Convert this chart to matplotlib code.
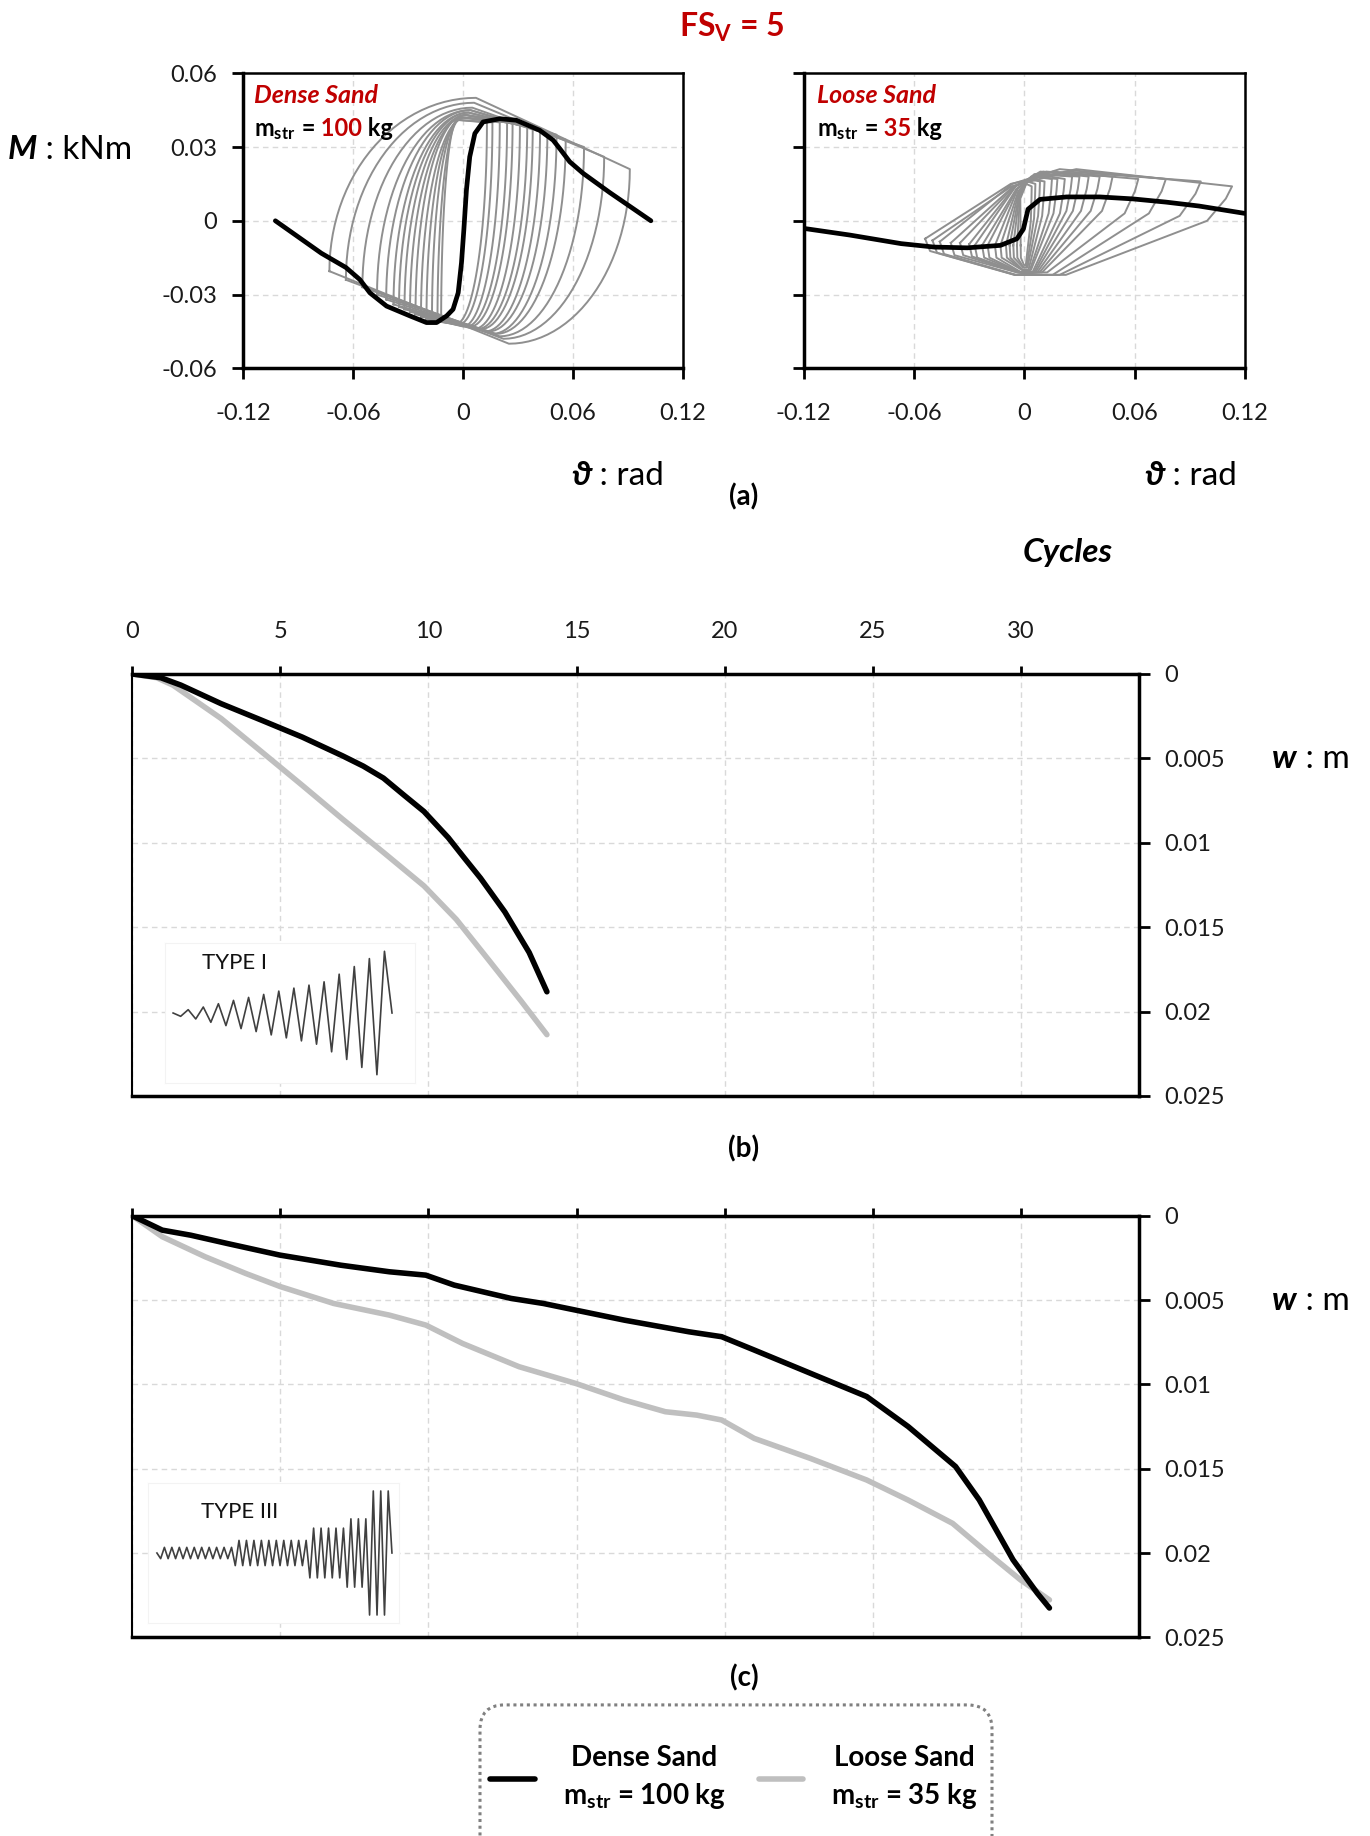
import numpy as np
import matplotlib
matplotlib.use('Agg')
import matplotlib.pyplot as plt
from matplotlib.patches import FancyBboxPatch

plt.rcParams['font.family'] = ['Lato', 'DejaVu Sans']
plt.rcParams['mathtext.fontset'] = 'custom'
plt.rcParams['mathtext.rm'] = 'Lato'
plt.rcParams['mathtext.it'] = 'Lato:italic'
plt.rcParams['mathtext.bf'] = 'Lato:bold'

RED = '#c00000'
LOOP_GREY = '#8f8f8f'
LIGHT = '#bfbfbf'
GRID = '#d9d9d9'

# ---- (a) moment - rotation, dense sand (m_str = 100 kg) ----
dense_theta = [-0.1025, -0.0774, -0.064, -0.0564, -0.0509, -0.0418, -0.029, -0.020,
               -0.0145, -0.009, -0.0055, -0.0027, -0.0009, 0.0004, 0.0018, 0.0036, 0.0064,
               0.0109, 0.020, 0.029, 0.0418, 0.0491, 0.0527, 0.0582, 0.0655, 0.080, 0.1025]
dense_m = [0.0, -0.0132, -0.019, -0.0239, -0.0293, -0.0347, -0.0387, -0.0414,
           -0.0414, -0.0387, -0.036, -0.0293, -0.0171, -0.0036, 0.0125, 0.026, 0.0355,
           0.0402, 0.0415, 0.0409, 0.0368, 0.0328, 0.0294, 0.024, 0.0193, 0.0115, 0.0]

# cyclic loops (small -> large): rotation extremes, corner moments, peak moments
dense_tp = [0.013, 0.016, 0.020, 0.024, 0.027, 0.031, 0.035, 0.038, 0.042, 0.046, 0.051, 0.056, 0.066, 0.077, 0.091]
dense_tn = [-0.012, -0.014, -0.017, -0.020, -0.023, -0.026, -0.029, -0.032, -0.035, -0.038, -0.042, -0.047, -0.055, -0.064, -0.073]
dense_mr = [0.040, 0.040, 0.040, 0.040, 0.040, 0.039, 0.039, 0.038, 0.037, 0.036, 0.035, 0.033, 0.030, 0.026, 0.021]
dense_ml = [-0.041, -0.041, -0.040, -0.040, -0.039, -0.038, -0.037, -0.036, -0.035, -0.034, -0.032, -0.030, -0.027, -0.024, -0.0205]
dense_mt = [0.041, 0.041, 0.042, 0.042, 0.042, 0.043, 0.043, 0.043, 0.044, 0.044, 0.045, 0.045, 0.046, 0.048, 0.050]
dense_mb = [-0.042, -0.042, -0.043, -0.043, -0.043, -0.044, -0.044, -0.044, -0.045, -0.045, -0.046, -0.046, -0.047, -0.048, -0.050]
dense_xt = [-0.003, -0.002, -0.001, 0.0, 0.001, 0.001, 0.002, 0.002, 0.003, 0.003, 0.004, 0.004, 0.005, 0.006, 0.007]
dense_xb = [-0.004, -0.002, 0.0, 0.002, 0.004, 0.006, 0.008, 0.010, 0.012, 0.014, 0.016, 0.018, 0.020, 0.022, 0.025]

# ---- (a) moment - rotation, loose sand (m_str = 35 kg) ----
loose_theta = [-0.12, -0.095, -0.067, -0.049, -0.031, -0.013, -0.004, -0.0005, 0.002,
               0.0085, 0.023, 0.041, 0.059, 0.077, 0.095, 0.12]
loose_m = [-0.0031, -0.0058, -0.0093, -0.0107, -0.011, -0.010, -0.0073, -0.0033, 0.0047,
           0.0087, 0.0097, 0.0097, 0.0089, 0.0076, 0.006, 0.003]

loose_tp = [0.004, 0.006, 0.0085, 0.011, 0.015, 0.018, 0.022, 0.026, 0.030, 0.035, 0.041, 0.048, 0.062, 0.077, 0.096, 0.113]
loose_tn = [-0.002, -0.004, -0.006, -0.008, -0.010, -0.013, -0.016, -0.020, -0.023, -0.027, -0.030, -0.035, -0.040, -0.046, -0.050, -0.054]
loose_mt = [0.015, 0.016, 0.017, 0.017, 0.018, 0.018, 0.019, 0.019, 0.019, 0.020, 0.020, 0.020, 0.020, 0.021, 0.020, 0.021]
loose_mr = [0.014, 0.015, 0.016, 0.016, 0.017, 0.017, 0.017, 0.018, 0.018, 0.018, 0.018, 0.018, 0.017, 0.017, 0.016, 0.014]
loose_mb = [-0.018, -0.019, -0.019, -0.020, -0.020, -0.020, -0.021, -0.021, -0.021, -0.021, -0.021, -0.021, -0.021, -0.022, -0.022, -0.022]
loose_ml = [-0.010, -0.010, -0.010, -0.010, -0.010, -0.010, -0.010, -0.010, -0.010, -0.010, -0.0095, -0.009, -0.009, -0.0085, -0.008, -0.0073]

theta_ticks = [-0.12, -0.06, 0, 0.06, 0.12]
theta_labels = ['-0.12', '-0.06', '0', '0.06', '0.12']
m_ticks = [-0.06, -0.03, 0, 0.03, 0.06]
m_labels = ['-0.06', '-0.03', '0', '0.03', '0.06']

# ---- (b) settlement vs cycles, TYPE I ----
b_cyc_dense = [0, 0.96, 1.64, 3.0, 4.38, 5.74, 7.1, 7.8, 8.48, 9.16, 9.85, 10.67, 11.21,
               11.76, 12.58, 13.4, 14.0]
b_w_dense = [0, 0.00022, 0.00066, 0.00176, 0.00275, 0.00374, 0.00485, 0.00546, 0.00617,
             0.00716, 0.00815, 0.0097, 0.0109, 0.0121, 0.0141, 0.0165, 0.01883]
b_cyc_loose = [0, 0.82, 1.37, 3.0, 4.38, 5.74, 7.1, 8.48, 9.85, 10.94, 12.04, 13.13, 14.0]
b_w_loose = [0, 0.00022, 0.00066, 0.00264, 0.00463, 0.0066, 0.0086, 0.01057, 0.01256,
             0.01454, 0.01696, 0.01938, 0.02137]

# ---- (c) settlement vs cycles, TYPE III ----
c_cyc_dense = [0, 1.01, 1.97, 3.2, 4.98, 7.04, 8.68, 9.91, 10.87, 12.79, 13.88, 16.62, 18.8,
               19.9, 21.0, 22.9, 24.8, 26.2, 27.8, 28.6, 29.74, 30.56, 30.97]
c_w_dense = [0, 0.00085, 0.00115, 0.00164, 0.00233, 0.00293, 0.00332, 0.00352, 0.00411,
             0.0049, 0.0052, 0.00619, 0.00688, 0.00717, 0.00796, 0.00934, 0.01072, 0.0125,
             0.01487, 0.01685, 0.0204, 0.02238, 0.02326]
c_cyc_loose = [0, 1.01, 2.46, 3.83, 5.0, 6.8, 8.68, 9.91, 11.15, 13.06, 14.97, 16.6, 18.0,
               19.06, 19.9, 21.0, 22.9, 24.8, 26.2, 27.7, 28.9, 30.0, 30.97]
c_w_loose = [0, 0.00124, 0.00243, 0.00342, 0.0042, 0.0052, 0.00589, 0.00648, 0.00757,
             0.00895, 0.00994, 0.01092, 0.01162, 0.01182, 0.01211, 0.0132, 0.01439, 0.01567,
             0.01686, 0.01824, 0.02002, 0.0216, 0.02278]

cycle_ticks = [0, 5, 10, 15, 20, 25, 30]
w_ticks = [0, 0.005, 0.01, 0.015, 0.02, 0.025]
w_labels = ['0', '0.005', '0.01', '0.015', '0.02', '0.025']

# loading signal sketches (relative amplitude of each cycle)
type1_amp = [10, 18, 28, 38, 47, 56, 66, 75, 84, 94, 117, 140, 164, 186]
type3_amp = [17] * 10 + [38] * 10 + [75] * 5 + [103] * 3 + [187] * 3


def dense_loop(tn, tp, ml, mr, mt, mb, xt, xb, n=30):
    q = np.linspace(0, np.pi / 2, n)
    up_x = tn + (xt - tn) * (1 - np.cos(q))
    up_y = ml + (mt - ml) * np.sin(q)
    dn_x = tp + (xb - tp) * (1 - np.cos(q))
    dn_y = mr + (mb - mr) * np.sin(q)
    x = np.concatenate([up_x, [tp], dn_x, [tn]])
    y = np.concatenate([up_y, [mr], dn_y, [ml]])
    return x, y


def loose_loop(tn, tp, ml, mr, mt, mb):
    x = [tn, 0.1 * tn - 0.002, 0.25 * tp, tp, 0.97 * tp, 0.88 * tp, 0.2 * tp, 0.1 * tn, 0.95 * tn, tn]
    y = [ml, mt - 0.006, mt, mr, mr - 0.005, mr - 0.014, mb, mb, ml - 0.005, ml]
    return x, y


def zigzag(amps):
    pts = [0]
    for a in amps:
        pts += [-a, a]
    pts.append(0)
    return pts


def rich_text(fig, x, y, pieces, size, renderer):
    for s, kw in pieces:
        t = fig.text(x, y, s, fontsize=size, va='baseline', ha='left', **kw)
        bb = t.get_window_extent(renderer)
        x = fig.transFigure.inverted().transform((bb.x1, bb.y0))[0]


def style_moment_axes(ax, show_ylabels):
    ax.set_xlim(-0.12, 0.12)
    ax.set_ylim(-0.06, 0.06)
    ax.set_xticks(theta_ticks)
    ax.set_xticklabels(theta_labels)
    ax.set_yticks(m_ticks)
    ax.set_yticklabels(m_labels)
    ax.grid(True, color=GRID, ls=(0, (4, 3)), lw=1)
    ax.set_axisbelow(True)
    ax.tick_params(axis='x', direction='out', length=8, width=2, labelsize=17,
                   pad=17, labelcolor='#1a1a1a')
    ax.tick_params(axis='y', direction='out', length=8, width=2, labelsize=17,
                   pad=11, labelcolor='#1a1a1a', labelleft=show_ylabels)
    for side in ['left', 'bottom']:
        ax.spines[side].set_linewidth(2.5)
    for side in ['top', 'right']:
        ax.spines[side].set_linewidth(1.8)


def style_cycle_axes(ax, show_xlabels):
    ax.set_xlim(0, 34)
    ax.set_ylim(0.025, 0)
    ax.set_xticks(cycle_ticks)
    ax.set_xticklabels([str(c) for c in cycle_ticks])
    ax.set_yticks(w_ticks)
    ax.set_yticklabels(w_labels)
    ax.xaxis.tick_top()
    ax.yaxis.tick_right()
    ax.grid(True, color=GRID, ls=(0, (4, 3)), lw=1)
    ax.set_axisbelow(True)
    ax.tick_params(axis='x', direction='out', length=6, width=2, labelsize=17, pad=17,
                   labelcolor='#1a1a1a', labeltop=show_xlabels, labelbottom=False)
    ax.tick_params(axis='y', direction='out', length=8, width=2, labelsize=17, pad=10,
                   labelcolor='#1a1a1a')
    for side in ['top', 'right', 'bottom']:
        ax.spines[side].set_linewidth(2.5)
    ax.spines['left'].set_linewidth(1.5)


def add_signal_inset(fig, rect, amps, title, title_xy):
    ax = fig.add_axes(rect)
    pts = zigzag(amps)
    n = len(pts) - 1
    ax.plot(range(len(pts)), pts, color='#404040', lw=1.2)
    if title == 'TYPE I':
        ax.set_xlim(-0.037 * n, 1.105 * n)
    else:
        ax.set_xlim(-0.038 * n, 1.03 * n)
    ax.set_ylim(-211, 211)
    ax.set_xticks([])
    ax.set_yticks([])
    for sp in ax.spines.values():
        sp.set_color('#f3f3f3')
        sp.set_linewidth(0.8)
    ax.text(title_xy[0], title_xy[1], title, transform=ax.transAxes, fontsize=16,
            va='center', ha='left', color='#111111')
    return ax


fig = plt.figure(figsize=(13.7, 18.36), dpi=100)
renderer = fig.canvas.get_renderer()

ax_d = fig.add_axes([0.1776, 0.7994, 0.3209, 0.1607])
ax_l = fig.add_axes([0.5867, 0.7994, 0.3220, 0.1607])
ax_b = fig.add_axes([0.0966, 0.4031, 0.7349, 0.2298])
ax_c = fig.add_axes([0.0966, 0.1082, 0.7349, 0.2296])

# (a) dense
style_moment_axes(ax_d, True)
for i in range(len(dense_tp)):
    lx, ly = dense_loop(dense_tn[i], dense_tp[i], dense_ml[i], dense_mr[i],
                        dense_mt[i], dense_mb[i], dense_xt[i], dense_xb[i])
    ax_d.plot(lx, ly, color=LOOP_GREY, lw=1.4)
ax_d.plot(dense_theta, dense_m, color='black', lw=3.4, solid_capstyle='round',
          solid_joinstyle='round')

# (a) loose
style_moment_axes(ax_l, False)
for i in range(len(loose_tp)):
    lx, ly = loose_loop(loose_tn[i], loose_tp[i], loose_ml[i], loose_mr[i],
                        loose_mt[i], loose_mb[i])
    ax_l.plot(lx, ly, color=LOOP_GREY, lw=1.4)
ax_l.plot(loose_theta, loose_m, color='black', lw=3.4, solid_capstyle='round',
          solid_joinstyle='round')

# (b)
style_cycle_axes(ax_b, True)
ln_loose, = ax_b.plot(b_cyc_loose, b_w_loose, color=LIGHT, lw=4.0, solid_capstyle='round',
                      solid_joinstyle='round')
ln_dense, = ax_b.plot(b_cyc_dense, b_w_dense, color='black', lw=4.0, solid_capstyle='round',
                      solid_joinstyle='round')

# (c)
style_cycle_axes(ax_c, False)
ax_c.plot(c_cyc_loose, c_w_loose, color=LIGHT, lw=4.0, solid_capstyle='round',
          solid_joinstyle='round')
ax_c.plot(c_cyc_dense, c_w_dense, color='black', lw=4.0, solid_capstyle='round',
          solid_joinstyle='round')

W, H = 1370.0, 1836.0
add_signal_inset(fig, [165 / W, 1 - 1083 / H, 250 / W, 140 / H], type1_amp, 'TYPE I', (0.148, 0.86))
add_signal_inset(fig, [148 / W, 1 - 1623 / H, 251 / W, 140 / H], type3_amp, 'TYPE III', (0.21, 0.79))

# titles and axis captions
fig.text(732 / W, 1 - 37 / H, r'FS$_{\mathbf{V}}$ = 5', color=RED, fontsize=23,
         weight='bold', ha='center', va='baseline')

bi = dict(weight='bold', style='italic')
rich_text(fig, 8 / W, 1 - 159 / H, [('M', bi), (' : kNm', {})], 24, renderer)
rich_text(fig, 571 / W, 1 - 485 / H, [('ϑ', bi), (' : rad', {})], 24, renderer)
rich_text(fig, 1144 / W, 1 - 485 / H, [('ϑ', bi), (' : rad', {})], 24, renderer)
rich_text(fig, 1272 / W, 1 - 768 / H, [('w', bi), (' : m', {})], 24, renderer)
rich_text(fig, 1272 / W, 1 - 1310 / H, [('w', bi), (' : m', {})], 24, renderer)
fig.text(1068 / W, 1 - 562 / H, 'Cycles', fontsize=24, weight='bold', style='italic',
         ha='center', va='baseline')

for lbl, yb in [('(a)', 505), ('(b)', 1157), ('(c)', 1686)]:
    fig.text(744 / W, 1 - yb / H, lbl, fontsize=20, weight='bold', ha='center', va='baseline')

# panel annotations
bold = dict(weight='bold')
fig.text(254 / W, 1 - 103 / H, 'Dense Sand', color=RED, fontsize=18, weight='bold',
         style='italic', va='baseline')
rich_text(fig, 254 / W, 1 - 136 / H,
          [(r'm$_{\mathbf{str}}$', bold), (' =', bold), (' 100', dict(weight='bold', color=RED)),
           (' kg', bold)], 17, renderer)
fig.text(817 / W, 1 - 103 / H, 'Loose Sand', color=RED, fontsize=18, weight='bold',
         style='italic', va='baseline')
rich_text(fig, 817 / W, 1 - 136 / H,
          [(r'm$_{\mathbf{str}}$', bold), (' =', bold), (' 35', dict(weight='bold', color=RED)),
           (' kg', bold)], 17, renderer)

# legend with dotted rounded frame
leg = fig.legend(handles=[ln_dense, ln_loose],
                 labels=['Dense Sand\n' + r'm$_{\mathbf{str}}$ = 100 kg',
                         'Loose Sand\n' + r'm$_{\mathbf{str}}$ = 35 kg'],
                 ncol=2, loc='center', bbox_to_anchor=(734 / W, 1 - 1778 / H),
                 frameon=False, handlelength=1.6, handletextpad=1.0, columnspacing=1.2,
                 prop={'weight': 'bold', 'size': 20})
for t in leg.get_texts():
    t.set_multialignment('center')
    t.set_linespacing(1.45)

box = FancyBboxPatch((480 / W, -0.02), 512 / W, 0.0714 + 0.02,
                     boxstyle='round,pad=0,rounding_size=0.018', mutation_aspect=W / H,
                     transform=fig.transFigure, fill=False, ec='#808080', lw=2.2,
                     ls=(0, (1, 1.2)), clip_on=False)
fig.add_artist(box)

fig.savefig('out.png', dpi=100)
